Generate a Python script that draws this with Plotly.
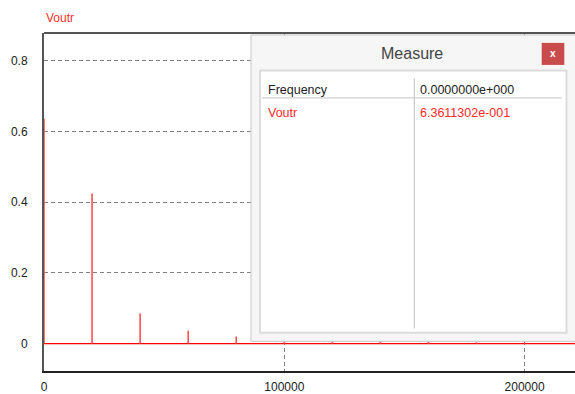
import plotly.graph_objects as go

# ---- data ----
freqs = [0, 20000, 40000, 60000, 80000, 100000, 120000, 140000,
         160000, 180000, 200000, 220000, 240000]
mags = [0.6361, 0.4244, 0.0849, 0.0364, 0.0202, 0.0129, 0.0089,
        0.0065, 0.0050, 0.0039, 0.0032, 0.0026, 0.0022]
series_name = "Voutr"
y_ticks = [0, 0.2, 0.4, 0.6, 0.8]
y_ticklabels = ["0", "0.2", "0.4", "0.6", "0.8"]
x_ticks = [0, 100000, 200000]
x_ticklabels = ["0", "100000", "200000"]
measure_rows = [("Frequency", "0.0000000e+000"), ("Voutr", "6.3611302e-001")]

FONT = "Liberation Sans, Arial, sans-serif"

# stem path
sx, sy = [], []
for f, m in zip(freqs, mags):
    sx += [f, f, None]
    sy += [0, m, None]

fig = go.Figure()
fig.add_trace(go.Scatter(x=[freqs[0], freqs[-1]], y=[0, 0], mode="lines",
                         line=dict(color="#ff0000", width=1.2),
                         hoverinfo="skip", showlegend=False))
fig.add_trace(go.Scatter(x=sx, y=sy, mode="lines", name=series_name,
                         line=dict(color="#ff5050", width=1.6),
                         showlegend=False))

# ---- geometry helpers for the Measure window (paper coords) ----
DY = 2  # screen offset compensation
L, R, T, B = 44, 575, 31 + DY, 373 + DY
def px(x):
    return (x - L) / (R - L)
def py(y):
    return (B - (y + DY)) / (B - T)

shapes = [
    # top border of the plot frame
    dict(type="line", xref="paper", yref="paper", x0=0, x1=1, y0=1, y1=1,
         line=dict(color="#555555", width=2), layer="above"),
    # Measure window outer
    dict(type="rect", xref="paper", yref="paper", x0=px(251), x1=px(600),
         y0=py(343), y1=py(33), fillcolor="#f6f6f6",
         line=dict(color="#c8c8c8", width=1), layer="above"),
    # inner panel
    dict(type="rect", xref="paper", yref="paper", x0=px(260), x1=px(566.5),
         y0=py(334.3), y1=py(69), fillcolor="#ffffff",
         line=dict(color="#dcdcdc", width=2), layer="above"),
    # column divider
    dict(type="line", xref="paper", yref="paper", x0=px(414.3), x1=px(414.3),
         y0=py(330), y1=py(77), line=dict(color="#c8c8c8", width=1.2),
         layer="above"),
    # header separator
    dict(type="line", xref="paper", yref="paper", x0=px(262), x1=px(561.7),
         y0=py(96.7), y1=py(96.7), line=dict(color="#d0d0d0", width=1.2),
         layer="above"),
    # close button
    dict(type="rect", xref="paper", yref="paper", x0=px(541.7), x1=px(564.3),
         y0=py(63.3), y1=py(41), fillcolor="#c94c4c",
         line=dict(color="#c94c4c", width=0), layer="above"),
]

annotations = [
    dict(text=series_name, xref="paper", yref="paper", x=0, y=py(16),
         xanchor="left", yanchor="middle", showarrow=False,
         font=dict(family=FONT, size=12, color="#ff3030")),
    dict(text="Measure", xref="paper", yref="paper", x=px(412), y=py(52),
         xanchor="center", yanchor="middle", showarrow=False,
         font=dict(family=FONT, size=16, color="#444444")),
    dict(text="<b>x</b>", xref="paper", yref="paper", x=px(553), y=py(52),
         xanchor="center", yanchor="middle", showarrow=False,
         font=dict(family=FONT, size=10, color="#ffffff")),
]
row_y = [88.3, 111.5]
row_colors = ["#222222", "#ff2a2a"]
for (lbl, val), yy, col in zip(measure_rows, row_y, row_colors):
    annotations.append(dict(text=lbl, xref="paper", yref="paper", x=px(266),
                            y=py(yy), xanchor="left", yanchor="middle",
                            showarrow=False,
                            font=dict(family=FONT, size=12.5, color=col)))
    annotations.append(dict(text=val, xref="paper", yref="paper", x=px(418),
                            y=py(yy), xanchor="left", yanchor="middle",
                            showarrow=False,
                            font=dict(family=FONT, size=12.5, color=col)))

fig.update_layout(
    width=575, height=394,
    margin=dict(l=L, r=575 - R, t=T, b=394 - B),
    paper_bgcolor="white", plot_bgcolor="white",
    font=dict(family=FONT, size=12, color="#222222"),
    shapes=shapes, annotations=annotations,
    showlegend=False,
)
fig.update_xaxes(
    range=[0, (R - L) / 240.3 * 100000],
    tickvals=x_ticks, ticktext=x_ticklabels,
    showgrid=True, gridcolor="#808080", gridwidth=1, griddash="4px,3px",
    zeroline=False, showline=True, linecolor="#222222", linewidth=2,
    ticks="", ticklabelstandoff=4, layer="below traces",
    tickfont=dict(family=FONT, size=12, color="#222222"),
)
fig.update_yaxes(
    range=[-(B - (345.3 + DY)) / 357.9, ((345.3 + DY) - T) / 357.9],
    tickvals=y_ticks, ticktext=y_ticklabels,
    showgrid=True, gridcolor="#808080", gridwidth=1, griddash="4px,3px",
    zeroline=False, showline=True, linecolor="#555555", linewidth=2,
    ticks="", ticklabelstandoff=12, layer="below traces",
    tickfont=dict(family=FONT, size=12, color="#222222"),
)

fig.write_html(
    "out.html",
    config={"displayModeBar": False},
    post_script="document.body.style.margin='0px';document.body.style.overflow='hidden';",
)
